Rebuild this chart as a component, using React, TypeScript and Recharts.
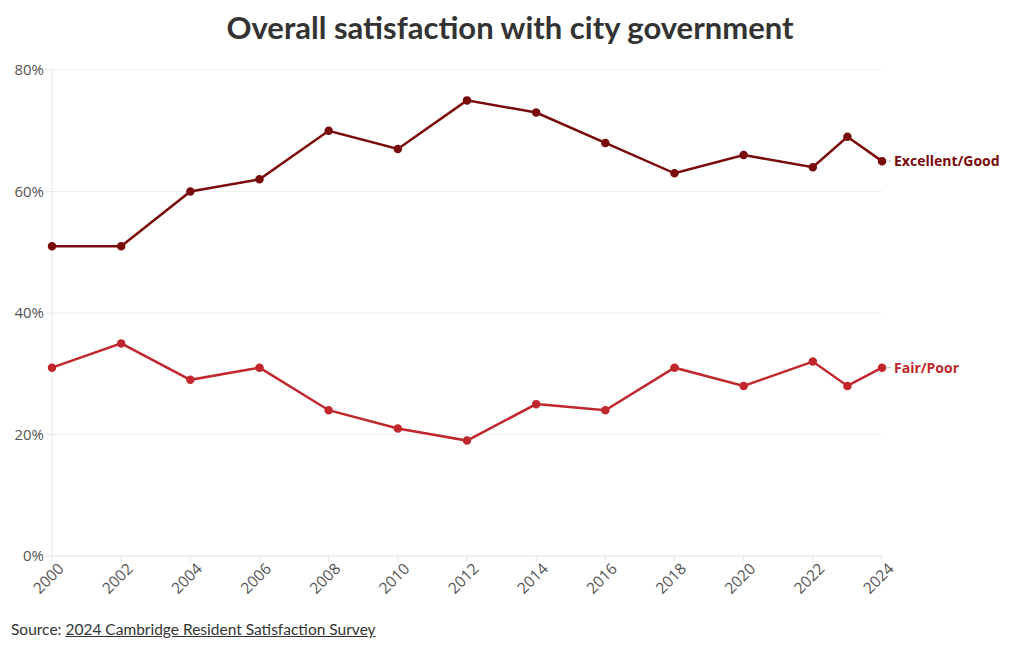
import React from "react";
import { LineChart, Line, XAxis, YAxis, CartesianGrid } from "recharts";

const years = [2000, 2002, 2004, 2006, 2008, 2010, 2012, 2014, 2016, 2018, 2020, 2022, 2023, 2024];
const excellentGood = [51, 51, 60, 62, 70, 67, 75, 73, 68, 63, 66, 64, 69, 65];
const fairPoor = [31, 35, 29, 31, 24, 21, 19, 25, 24, 31, 28, 32, 28, 31];
const xTicks = [2000, 2002, 2004, 2006, 2008, 2010, 2012, 2014, 2016, 2018, 2020, 2022, 2024];
const yTicks = [0, 20, 40, 60, 80];

const data = years.map((y, i) => ({ year: y, eg: excellentGood[i], fp: fairPoor[i] }));

const FONT = "Lato, 'Open Sans', sans-serif";
const TICKFONT = "'Open Sans', Lato, sans-serif";
const DARK = "#7a0a0a";
const RED = "#c1272d";

const XTick = (props: any) => {
  const { x, y, payload } = props;
  return (
    <g transform={`translate(${x},${y})`}>
      <text x={5} y={13} textAnchor="end" transform="rotate(-45)" fill="#555" fontSize={15.5} fontFamily={TICKFONT}>
        {payload.value}
      </text>
    </g>
  );
};

const makeEndLabel = (text: string, color: string) => (props: any) => {
  const { x, y, index } = props;
  if (index !== years.length - 1) return null;
  return (
    <g>
      <line x1={x + 4} x2={x + 9} y1={y} y2={y} stroke="#bcd" strokeWidth={1} />
      <text x={x + 12} y={y} dy={5} fill={color} fontSize={14} fontWeight={700} fontFamily={TICKFONT}>
        {text}
      </text>
    </g>
  );
};

export default function App() {
  return (
    <div style={{ position: "absolute", left: 0, top: 0, width: 1020, height: 650, background: "#fff", fontFamily: FONT }}>
      <div style={{ position: "absolute", left: 0, top: 8, width: 1020, textAlign: "center", fontSize: 31, fontWeight: 700, color: "#333" }}>
        Overall satisfaction with city government
      </div>
      <LineChart width={1020} height={650} data={data} margin={{ top: 70, right: 138, left: 10, bottom: 34 }}>
        <CartesianGrid stroke="#eee" vertical={false} />
        <XAxis
          dataKey="year"
          type="number"
          domain={[2000, 2024]}
          ticks={xTicks}
          interval={0}
          tick={<XTick />}
          height={60}
          stroke="#e6e6e6"
          tickSize={6}
        />
        <YAxis
          domain={[0, 80]}
          ticks={yTicks}
          tickFormatter={(v: number) => `${v}%`}
          width={42}
          stroke="#e6e6e6"
          tick={{ fill: "#555", fontSize: 15, fontFamily: TICKFONT }}
          tickSize={6}
        />
        <Line
          dataKey="eg"
          stroke={DARK}
          strokeWidth={2.5}
          dot={{ r: 3, fill: DARK, stroke: DARK }}
          isAnimationActive={false}
          label={makeEndLabel("Excellent/Good", DARK)}
        />
        <Line
          dataKey="fp"
          stroke={RED}
          strokeWidth={2.5}
          dot={{ r: 3, fill: RED, stroke: RED }}
          isAnimationActive={false}
          label={makeEndLabel("Fair/Poor", RED)}
        />
      </LineChart>
      <div style={{ position: "absolute", left: 11, top: 620, fontSize: 15.5, color: "#333" }}>
        Source: <span style={{ textDecoration: "underline" }}>2024 Cambridge Resident Satisfaction Survey</span>
      </div>
    </div>
  );
}
